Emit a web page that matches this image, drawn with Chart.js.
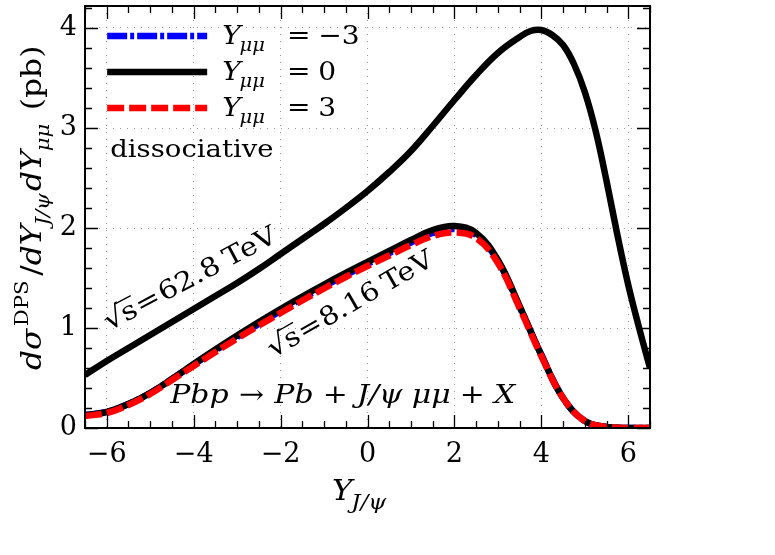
<!DOCTYPE html>
<html><head><meta charset="utf-8">
<script src="https://cdn.jsdelivr.net/npm/chart.js@4"></script>
<style>html,body{margin:0;padding:0;background:#fff;}#wrap{width:775px;height:555px;}</style>
</head><body><div id="wrap"><canvas id="c" width="775" height="555"></canvas></div>
<script>
// ---- data ----
const yJpsi = [-6.5,-6,-5.5,-5,-4.5,-4,-3.5,-3,-2.5,-2,-1.5,-1,-0.5,0,0.5,1,1.5,2,2.5,3,3.5,4,4.5,5,5.5,6,6.5];
const sigma816_Ymm0   = [0.13,0.16,0.24,0.35,0.49,0.64,0.785,0.925,1.06,1.19,1.315,1.435,1.55,1.66,1.77,1.88,1.98,2.02,1.95,1.68,1.22,0.73,0.30,0.07,0.01,0.0,0.0];
const sigma816_Ymm_m3 = [0.13,0.16,0.24,0.35,0.49,0.635,0.775,0.91,1.04,1.17,1.295,1.415,1.53,1.64,1.75,1.855,1.95,1.99,1.93,1.67,1.21,0.73,0.30,0.07,0.01,0.0,0.0];
const sigma816_Ymm3   = [0.12,0.15,0.23,0.34,0.48,0.62,0.76,0.895,1.025,1.15,1.275,1.395,1.51,1.62,1.725,1.83,1.92,1.955,1.90,1.65,1.20,0.72,0.30,0.07,0.01,0.0,0.0];
const yJpsi628 = [-6.5,-6,-5.5,-5,-4.5,-4,-3.5,-3,-2.5,-2,-1.5,-1,-0.5,0,0.5,1,1.5,2,2.5,3,3.5,3.75,4,4.25,4.5,4.75,5,5.25,5.5,5.75,6,6.25,6.5];
const sigma628_Ymm0 = [0.53,0.67,0.80,0.93,1.06,1.19,1.32,1.45,1.59,1.74,1.89,2.04,2.20,2.37,2.56,2.77,3.02,3.28,3.53,3.75,3.91,3.97,3.98,3.93,3.83,3.64,3.36,2.97,2.47,1.93,1.43,1.00,0.60];
const xTickLabels = [-6,-4,-2,0,2,4,6];
const yTickLabels = [0,1,2,3,4];
const legendLabels = ['\u22123','0','3'];

const pts = (xs, ys) => xs.map((x, i) => ({x: x, y: ys[i]}));

const SERIF = '"DejaVu Serif"';
const fUp = s => s + 'px ' + SERIF;
const fIt = s => 'italic ' + s + 'px ' + SERIF;

function rich(ctx, x, y, parts, angle, sx) {
  ctx.save();
  ctx.translate(x, y);
  if (angle) ctx.rotate(angle * Math.PI / 180);
  if (sx) ctx.scale(sx, 1);
  ctx.textBaseline = 'alphabetic';
  ctx.textAlign = 'left';
  ctx.fillStyle = '#000';
  ctx.strokeStyle = '#000';
  let cx = 0;
  for (const p of parts) {
    ctx.font = p.f;
    if (p.at !== undefined) cx = p.at;
    cx += (p.pre || 0);
    ctx.fillText(p.t, cx, p.dy || 0);
    const w = ctx.measureText(p.t).width;
    if (p.over) {
      ctx.lineWidth = 1.3;
      ctx.beginPath(); ctx.moveTo(cx - 1, -p.over); ctx.lineTo(cx + w + 1, -p.over); ctx.stroke();
    }
    cx += w + (p.post || 0);
  }
  ctx.restore();
}

const decor = {
  id: 'decor',
  afterDatasetsDraw(chart) {
    const ctx = chart.ctx, a = chart.chartArea;
    const xs = chart.scales.x, ys = chart.scales.y;
    // frame
    ctx.save();
    ctx.strokeStyle = '#000';
    ctx.lineWidth = 2;
    ctx.strokeRect(a.left, a.top, a.right - a.left, a.bottom - a.top);
    // inward ticks on all four sides
    ctx.lineWidth = 1.3;
    ctx.beginPath();
    for (let i = 0; i <= 26; i++) {
      const v = -6.5 + i * 0.5;
      const major = xTickLabels.includes(v);
      const L = major ? 13 : 7;
      const px = Math.round(xs.getPixelForValue(v)) + 0.5;
      ctx.moveTo(px, a.bottom); ctx.lineTo(px, a.bottom - L);
      ctx.moveTo(px, a.top); ctx.lineTo(px, a.top + L);
    }
    for (let i = 0; i <= 21; i++) {
      const v = i * 0.2;
      const major = (i % 5 === 0);
      const L = major ? 13 : 7;
      const py = Math.round(ys.getPixelForValue(v)) + 0.5;
      ctx.moveTo(a.left, py); ctx.lineTo(a.left + L, py);
      ctx.moveTo(a.right, py); ctx.lineTo(a.right - L, py);
    }
    ctx.stroke();
    ctx.restore();

    // legend
    const legend = [
      {color: '#0000ff', dash: [20, 3, 4, 3]},
      {color: '#000000', dash: []},
      {color: '#ff0000', dash: [17, 5]}
    ];
    const lx0 = xs.getPixelForValue(-5.99), ly0 = ys.getPixelForValue(3.92);
    legend.forEach((l, i) => {
      const y = ly0 + i * 36;
      ctx.save();
      ctx.strokeStyle = l.color; ctx.lineWidth = 6.5; ctx.setLineDash(l.dash);
      ctx.beginPath(); ctx.moveTo(lx0, y); ctx.lineTo(lx0 + 100, y); ctx.stroke();
      ctx.restore();
      rich(ctx, lx0 + 115, y + 8, [
        {t: 'Y', f: fIt(26)},
        {t: '\u03bc\u03bc', f: fIt(18), dy: 7, pre: -1},
        {t: '=', f: fUp(26), at: 60},
        {t: legendLabels[i], f: fUp(26), at: 89}
      ], 0, 1.08);
    });

    // annotations
    rich(ctx, xs.getPixelForValue(-5.92), ys.getPixelForValue(2.71), [{t: 'dissociative', f: fUp(25)}], 0, 1.1);
    rich(ctx, xs.getPixelForValue(-5.95), ys.getPixelForValue(0.97), [
      {t: '\u221a', f: fUp(28)}, {t: 's', f: fUp(26), over: 21, pre: -1}, {t: '=', f: fUp(26), pre: 1, post: 1},
      {t: '62.8', f: fUp(26), post: 6}, {t: 'TeV', f: fUp(26)}
    ], -28, 1.15);
    rich(ctx, xs.getPixelForValue(-2.17), ys.getPixelForValue(0.70), [
      {t: '\u221a', f: fUp(28)}, {t: 's', f: fUp(26), over: 21, pre: -1}, {t: '=', f: fUp(26), pre: 1, post: 1},
      {t: '8.16', f: fUp(26), post: 6}, {t: 'TeV', f: fUp(26)}
    ], -30, 1.12);
    rich(ctx, xs.getPixelForValue(-4.54), ys.getPixelForValue(0.25), [
      {t: 'Pbp', f: fIt(26)}, {t: '\u2192', f: fUp(26), pre: 9, post: 9}, {t: 'Pb', f: fIt(26)},
      {t: '+', f: fUp(26), pre: 8, post: 8}, {t: 'J/\u03c8', f: fIt(26), post: 8}, {t: '\u03bc\u03bc', f: fIt(26)},
      {t: '+', f: fUp(26), pre: 8, post: 8}, {t: 'X', f: fIt(26)}
    ], 0, 1.15);

    // axis titles
    rich(ctx, 332, 500, [{t: 'Y', f: fIt(28)}, {t: 'J/\u03c8', f: fIt(21), dy: 9, pre: -1}], 0, 1.1);
    rich(ctx, 41, 370, [
      {t: 'd\u03c3', f: fIt(28)}, {t: 'DPS', f: fUp(19), dy: -13, pre: 2},
      {t: '/', f: fUp(28), pre: 4}, {t: 'dY', f: fIt(28)}, {t: 'J/\u03c8', f: fIt(19), dy: 8, pre: -1},
      {t: 'dY', f: fIt(28), pre: 2}, {t: '\u03bc\u03bc', f: fIt(19), dy: 8, pre: -1},
      {t: '(pb)', f: fUp(28), pre: 12}
    ], -90, 1.12);
  }
};

new Chart(document.getElementById('c'), {
  type: 'line',
  data: {
    datasets: [
      {label: 'Y=3 (8.16 TeV)', data: pts(yJpsi, sigma816_Ymm3), borderColor: '#ff0000', borderWidth: 6.5, borderDash: [17, 5], order: 0},
      {label: 'Y=0 (8.16 TeV)', data: pts(yJpsi, sigma816_Ymm0), borderColor: '#000000', borderWidth: 6.5, order: 1},
      {label: 'Y=-3 (8.16 TeV)', data: pts(yJpsi, sigma816_Ymm_m3), borderColor: '#0000ff', borderWidth: 6.5, borderDash: [20, 3, 4, 3], order: 2},
      {label: 'Y=0 (62.8 TeV)', data: pts(yJpsi628, sigma628_Ymm0), borderColor: '#000000', borderWidth: 6.5, order: 1}
    ]
  },
  options: {
    responsive: false,
    devicePixelRatio: 1,
    animation: false,
    layout: {padding: {top: 6, right: 125, left: 0, bottom: 0}},
    elements: {point: {radius: 0}, line: {tension: 0.4, fill: false, borderCapStyle: 'butt', borderJoinStyle: 'round'}},
    plugins: {legend: {display: false}, tooltip: {enabled: false}},
    scales: {
      x: {
        type: 'linear', min: -6.5, max: 6.5,
        afterBuildTicks: s => { s.ticks = xTickLabels.map(v => ({value: v})); },
        afterFit: s => { s.height = 127; s.paddingLeft = 0; s.paddingRight = 0; },
        ticks: {color: '#000', font: {family: 'DejaVu Serif', size: 27}, padding: 11,
                maxRotation: 0, autoSkip: false, callback: v => (v < 0 ? '\u2212' + Math.abs(v) : '' + v)},
        grid: {color: '#999', lineWidth: 1, drawTicks: false},
        border: {display: false, dash: [1, 6]}
      },
      y: {
        type: 'linear', min: 0, max: 4.22,
        afterBuildTicks: s => { s.ticks = yTickLabels.map(v => ({value: v})); },
        afterFit: s => { s.width = 85; s.paddingTop = 0; s.paddingBottom = 0; },
        ticks: {color: '#000', font: {family: 'DejaVu Serif', size: 27}, padding: 8, autoSkip: false,
                callback: v => '' + v},
        grid: {color: '#999', lineWidth: 1, drawTicks: false},
        border: {display: false, dash: [1, 6]}
      }
    }
  },
  plugins: [decor]
});
</script>
</body></html>
